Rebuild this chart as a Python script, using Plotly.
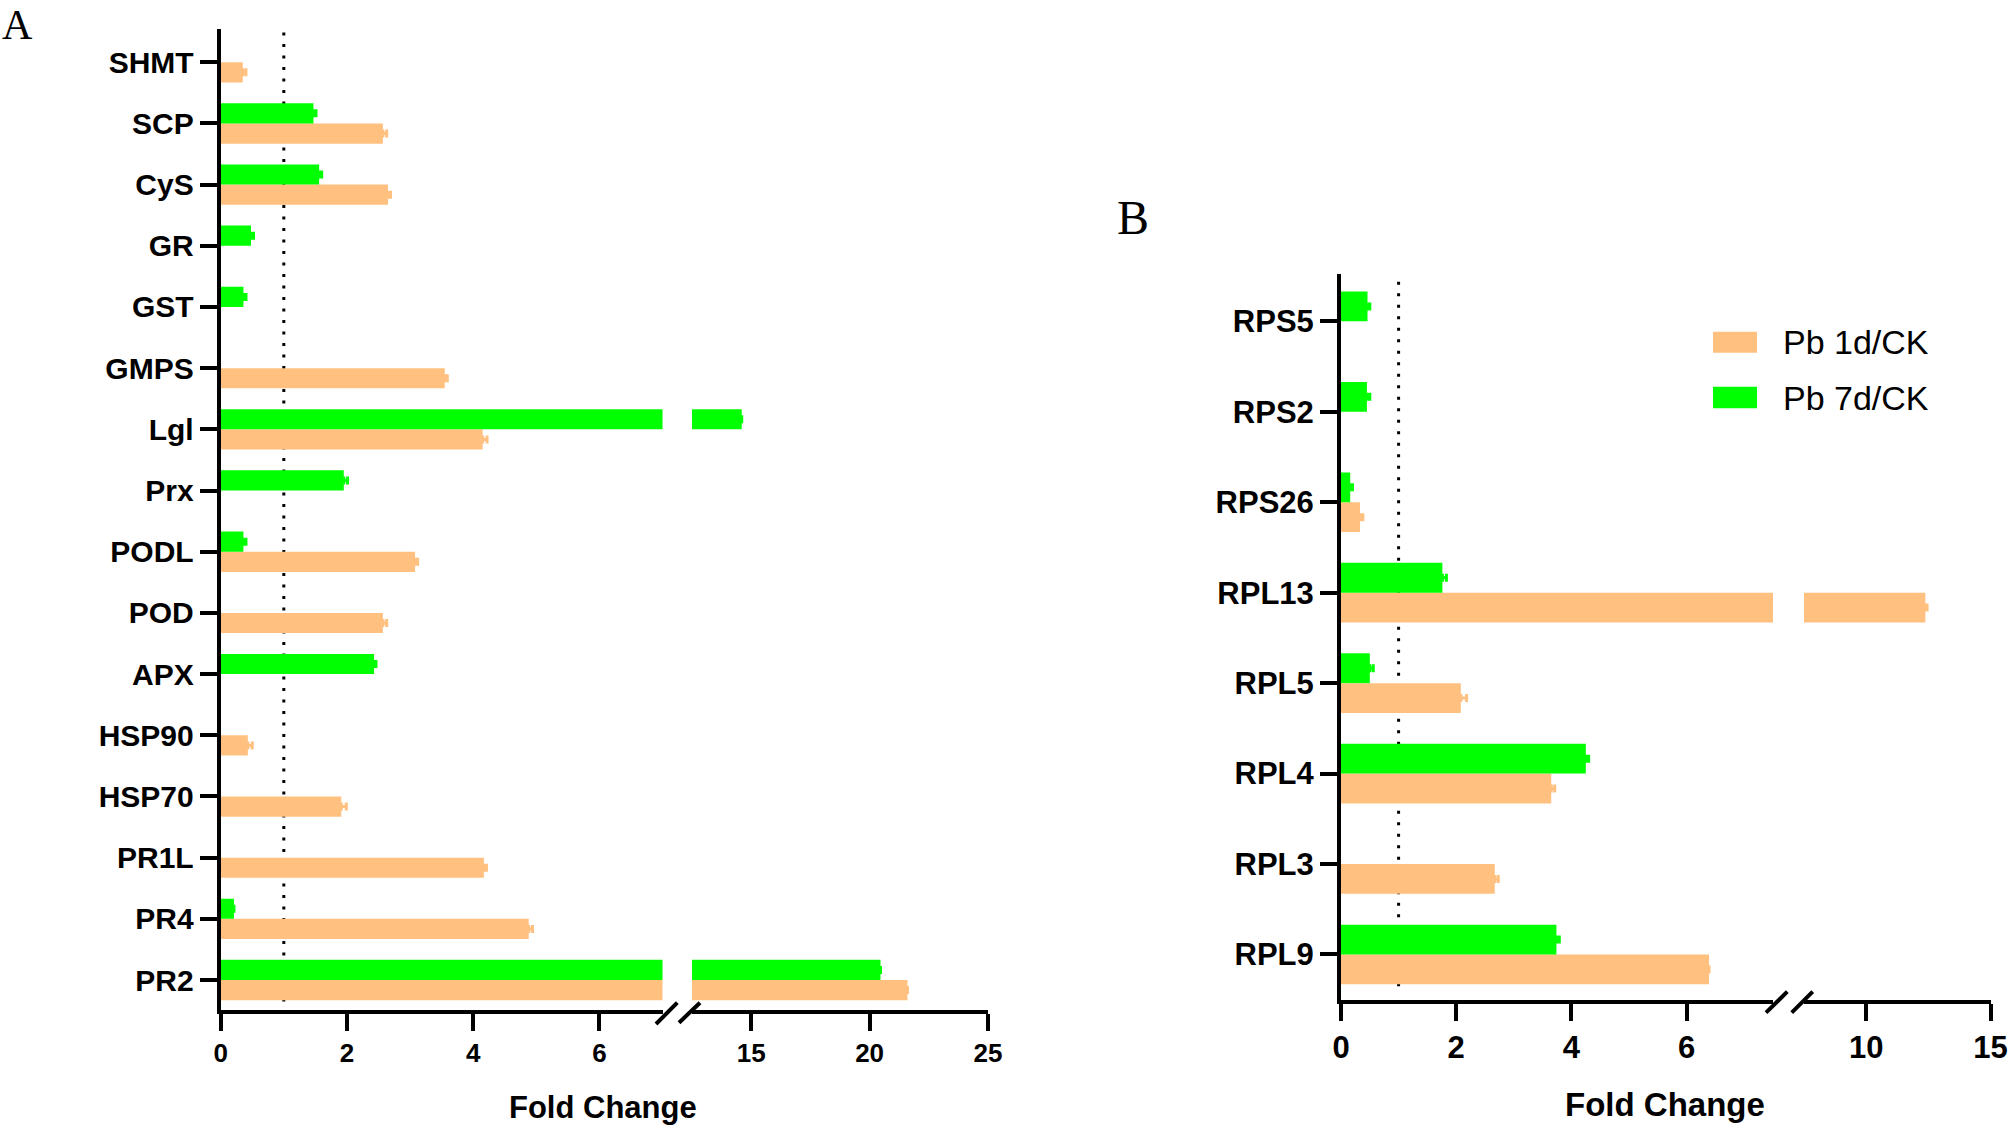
import plotly.graph_objects as go

# ---------------- data ----------------
genes_A = ["SHMT", "SCP", "CyS", "GR", "GST", "GMPS", "Lgl", "Prx", "PODL",
           "POD", "APX", "HSP90", "HSP70", "PR1L", "PR4", "PR2"]
pb1d_A = [0.35, 2.57, 2.65, None, None, 3.55, 4.15, None, 3.08,
          2.57, None, 0.43, 1.91, 4.17, 4.88, 21.6]
pb1d_A_err = [0.05, 0.06, 0.04, 0, 0, 0.04, 0.07, 0, 0.04,
              0.06, 0, 0.07, 0.08, 0.04, 0.06, 0]
pb7d_A = [None, 1.47, 1.56, 0.48, 0.36, None, 14.6, 1.95, 0.36,
          None, 2.43, None, None, None, 0.21, 20.46]
pb7d_A_err = [0, 0.04, 0.04, 0.04, 0.04, 0, 0, 0.06, 0.04,
              0, 0.03, 0, 0, 0, 0, 0]

genes_B = ["RPS5", "RPS2", "RPS26", "RPL13", "RPL5", "RPL4", "RPL3", "RPL9"]
pb1d_B = [None, None, 0.33, 12.38, 2.08, 3.65, 2.67, 6.39]
pb1d_B_err = [0, 0, 0.05, 0.07, 0.10, 0.06, 0.06, 0]
pb7d_B = [0.46, 0.45, 0.16, 1.76, 0.50, 4.25, None, 3.74]
pb7d_B_err = [0.04, 0.05, 0.04, 0.07, 0.06, 0.05, 0, 0.05]

series_names = ["Pb 1d/CK", "Pb 7d/CK"]

ticks_A_left = [0, 2, 4, 6]
ticks_A_right = [15, 20, 25]
ticks_B_left = [0, 2, 4, 6]
ticks_B_right = [10, 15]
range_A_left = [0, 7]
range_A_right = [12.5, 25]
range_B_left = [0, 7.5]
range_B_right = [7.5, 15]
ref_line = 1

# ---------------- styling ----------------
W, H = 2008, 1127
ORANGE = "#FFC080"
GREEN = "#00FF00"
SANS = "Liberation Sans, Arial, sans-serif"
SERIF = "Liberation Serif, Times New Roman, serif"


def fx(p):
    return p / W


def fy(p):
    return 1 - p / H


fig = go.Figure()


def add_bars(genes, vals, errs, color, name, xa, ya):
    fig.add_trace(go.Bar(
        y=genes, x=vals, orientation="h", name=name,
        xaxis=xa, yaxis=ya, showlegend=False,
        marker=dict(color=color, line=dict(width=0)),
        error_x=dict(type="data", array=errs, symmetric=False,
                     arrayminus=[0] * len(errs), color=color,
                     thickness=3, width=4),
    ))


for xa in ["x", "x2"]:
    add_bars(genes_A, pb1d_A, pb1d_A_err, ORANGE, series_names[0], xa, "y")
    add_bars(genes_A, pb7d_A, pb7d_A_err, GREEN, series_names[1], xa, "y")
for xa in ["x3", "x4"]:
    add_bars(genes_B, pb1d_B, pb1d_B_err, ORANGE, series_names[0], xa, "y2")
    add_bars(genes_B, pb7d_B, pb7d_B_err, GREEN, series_names[1], xa, "y2")

axis_common = dict(showline=True, linewidth=4, linecolor="black",
                   ticks="outside", ticklen=17, tickwidth=4, tickcolor="black",
                   showgrid=False, zeroline=False, fixedrange=True,
                   automargin=False)

xfontA = dict(family=SANS, size=26, color="black", weight="bold")
xfontB = dict(family=SANS, size=31, color="black", weight="bold")

fig.update_layout(
    width=W, height=H, autosize=False,
    margin=dict(l=0, r=0, t=0, b=0, pad=0),
    paper_bgcolor="white", plot_bgcolor="rgba(0,0,0,0)",
    barmode="group", bargap=0.34, bargroupgap=0,
    showlegend=False,
    xaxis=dict(domain=[fx(220.7), fx(662.5)], range=range_A_left,
               tickvals=ticks_A_left, anchor="y", tickfont=xfontA, **axis_common),
    xaxis2=dict(domain=[fx(692), fx(988)], range=range_A_right,
                tickvals=ticks_A_right, anchor="y", tickfont=xfontA, **axis_common),
    yaxis=dict(domain=[fy(1010), fy(28.6)], range=[-0.49, 15.55],
               type="category", categoryorder="array",
               categoryarray=genes_A[::-1], anchor="x",
               tickfont=dict(family=SANS, size=30, color="black", weight="bold"),
               **axis_common),
    xaxis3=dict(domain=[fx(1341), fx(1773)], range=range_B_left,
                tickvals=ticks_B_left, anchor="y2", tickfont=xfontB, **axis_common),
    xaxis4=dict(domain=[fx(1804), fx(1990.5)], range=range_B_right,
                tickvals=ticks_B_right, anchor="y2", tickfont=xfontB, **axis_common),
    yaxis2=dict(domain=[fy(999.7), fy(274.3)], range=[-0.5, 7.52],
                type="category", categoryorder="array",
                categoryarray=genes_B[::-1], anchor="x3",
                tickfont=dict(family=SANS, size=31, color="black", weight="bold"),
                **axis_common),
)

shapes = []
# dotted reference lines at fold change = 1
shapes.append(dict(type="line", xref="x", yref="y", x0=ref_line, x1=ref_line,
                   y0=-0.35, y1=15.5, layer="below",
                   line=dict(color="black", width=3, dash="3px,8.5px")))
shapes.append(dict(type="line", xref="x3", yref="y2", x0=ref_line, x1=ref_line,
                   y0=-0.35, y1=7.48, layer="below",
                   line=dict(color="black", width=3, dash="3px,8.5px")))

# axis-break marks
for (x0, y0, x1, y1) in [(656, 1024, 677.3, 1002.7), (679, 1022.7, 700, 1002.7),
                         (1766, 1012.7, 1787.3, 991.7), (1791.7, 1012.7, 1812.7, 991.7)]:
    shapes.append(dict(type="line", xref="paper", yref="paper",
                       x0=fx(x0), y0=fy(y0), x1=fx(x1), y1=fy(y1),
                       line=dict(color="black", width=4)))

# legend swatches
shapes.append(dict(type="rect", xref="paper", yref="paper",
                   x0=fx(1713), x1=fx(1757), y0=fy(352.7), y1=fy(331.7),
                   fillcolor=ORANGE, line=dict(width=0)))
shapes.append(dict(type="rect", xref="paper", yref="paper",
                   x0=fx(1713), x1=fx(1757), y0=fy(408.3), y1=fy(386.7),
                   fillcolor=GREEN, line=dict(width=0)))
fig.update_layout(shapes=shapes)

annotations = [
    dict(text=series_names[0], x=fx(1781), y=fy(342), xref="paper", yref="paper",
         xanchor="left", yanchor="middle", showarrow=False,
         font=dict(family=SANS, size=34, color="black")),
    dict(text=series_names[1], x=fx(1781), y=fy(397.5), xref="paper", yref="paper",
         xanchor="left", yanchor="middle", showarrow=False,
         font=dict(family=SANS, size=34, color="black")),
    dict(text="Fold Change", x=fx(603), y=fy(1107), xref="paper", yref="paper",
         xanchor="center", yanchor="middle", showarrow=False,
         font=dict(family=SANS, size=31, color="black", weight="bold")),
    dict(text="Fold Change", x=fx(1665), y=fy(1104), xref="paper", yref="paper",
         xanchor="center", yanchor="middle", showarrow=False,
         font=dict(family=SANS, size=33, color="black", weight="bold")),
    dict(text="A", x=0, y=1, xref="paper", yref="paper",
         xanchor="left", yanchor="top", showarrow=False,
         font=dict(family=SERIF, size=42, color="black")),
    dict(text="B", x=fx(1132.5), y=fy(217), xref="paper", yref="paper",
         xanchor="center", yanchor="middle", showarrow=False,
         font=dict(family=SERIF, size=48, color="black")),
]
fig.update_layout(annotations=annotations)

fig.write_html(
    "out.html",
    config={"responsive": False, "displayModeBar": False},
    post_script="document.body.style.margin='0';document.body.style.overflow='hidden';",
)
